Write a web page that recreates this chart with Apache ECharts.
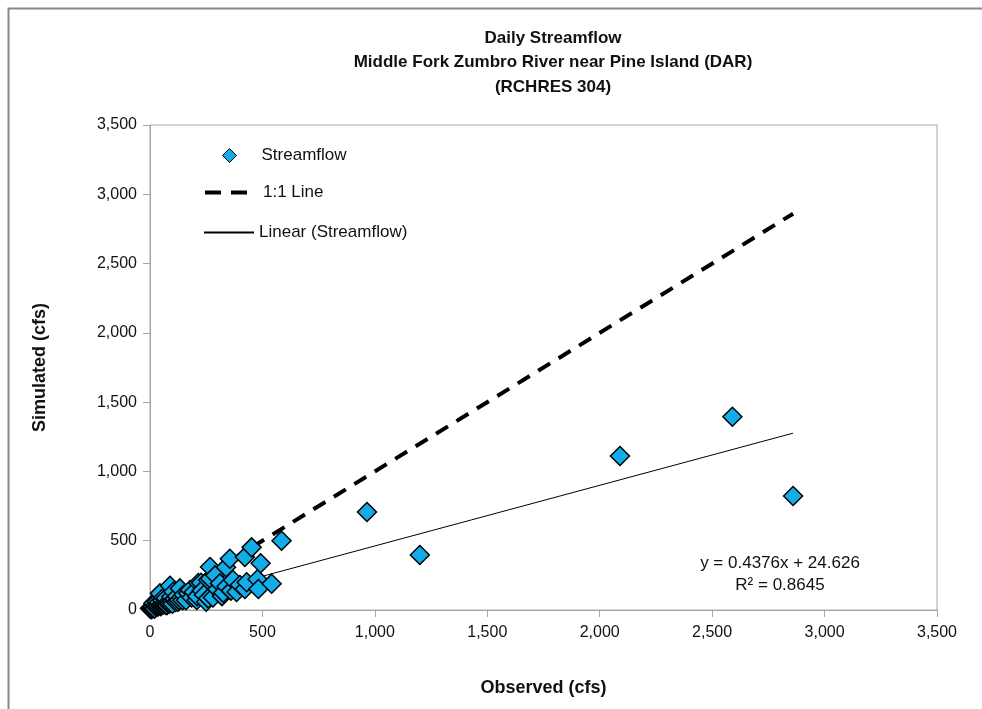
<!DOCTYPE html>
<html>
<head>
<meta charset="utf-8" />
<title>Daily Streamflow</title>
<script src="https://cdn.jsdelivr.net/npm/echarts@6/dist/echarts.min.js"></script>
<style>
  html, body { margin: 0; padding: 0; background: #fff; }
  #chart { width: 982px; height: 709px; }
</style>
</head>
<body>
<div id="chart"></div>
<script type="text/javascript">
// observed / simulated daily flows (cfs)
var observed = [
  0, 5, 8, 10, 15, 18, 20, 25, 28, 30, 35, 38, 40, 44, 48, 50, 55, 58, 60, 65, 68, 70,
  75, 78, 85, 88, 89, 95, 98, 100, 104, 110, 115, 120, 125, 130, 133, 140, 145, 150,
  160, 170, 178, 185, 195, 208, 210, 215, 227,
  230, 240, 250, 259, 259, 267, 267, 280, 290, 300, 311, 320, 326, 338, 340, 355,
  360, 369, 385, 400, 422, 422, 430, 452, 478, 482, 492, 541, 585,
  965, 1200, 2090, 2590, 2860
];
var simulated = [
  12, 5, 8, 20, 48, 14, 10, 35, 22, 60, 25, 30, 55, 120, 28, 40, 70, 40, 90, 50, 38, 85,
  35, 52, 60, 48, 175, 95, 62, 45, 132, 80, 58, 100, 60, 72, 156, 90, 70, 110,
  70, 120, 144, 90, 130, 72, 100, 195, 197,
  140, 110, 60, 84, 216, 228, 310, 90, 250, 150, 192, 100, 124, 309, 170, 370,
  140, 216, 130, 180, 152, 383, 200, 452, 222, 152, 337, 190, 500,
  707, 397, 1111, 1395, 823
];
var xTicks = [0, 500, 1000, 1500, 2000, 2500, 3000, 3500];
var yTicks = [0, 500, 1000, 1500, 2000, 2500, 3000, 3500];
var trendSlope = 0.4376;
var trendIntercept = 24.626;
var trendR2 = 0.8645;

var points = observed.map(function (x, i) { return [x, simulated[i]]; });
var minX = Math.min.apply(null, observed);
var maxX = Math.max.apply(null, observed);
var oneToOne = [[0, 0], [maxX, maxX]];
var trend = [[minX, trendSlope * minX + trendIntercept], [maxX, trendSlope * maxX + trendIntercept]];

function fmt(v) { return String(v).replace(/\B(?=(\d{3})+(?!\d))/g, ','); }

var FONT = '"Liberation Sans", Arial, sans-serif';
var myChart = echarts.init(document.getElementById('chart'));
var option = {
  animation: false,
  backgroundColor: '#fff',
  textStyle: { fontFamily: FONT },
  title: [{
    text: 'Daily Streamflow\nMiddle Fork Zumbro River near Pine Island (DAR)\n(RCHRES 304)',
    left: 553, top: 26, padding: 0,
    textAlign: 'center',
    textStyle: { fontFamily: FONT, fontSize: 17, fontWeight: 'bold', color: '#111', lineHeight: 24.5 }
  }, {
    text: 'y = ' + trendSlope + 'x + ' + trendIntercept + '\nR\u00b2 = ' + trendR2,
    left: 780, top: 552, padding: 0,
    textAlign: 'center',
    textStyle: { fontFamily: FONT, fontSize: 17, fontWeight: 'normal', color: '#111', lineHeight: 22 }
  }],
  graphic: [{
    type: 'rect', left: 6, top: 6, silent: true,
    shape: { width: 1000, height: 800 },
    style: { fill: 'none', stroke: '#888', lineWidth: 2 }
  }],
  legend: [{
    data: [{ name: 'Streamflow', icon: 'diamond' }], left: 222, top: 147, padding: 0,
    itemWidth: 14, itemHeight: 14,
    itemStyle: { borderColor: '#000', borderWidth: 1 },
    textStyle: { fontFamily: FONT, fontSize: 17, color: '#111', padding: [0, 0, 0, 20] }
  }, {
    data: ['1:1 Line'], left: 203, top: 184, padding: 0,
    itemWidth: 42, itemHeight: 14,
    itemStyle: { opacity: 0 },
    lineStyle: { width: 4, type: [16, 10], cap: 'butt' },
    textStyle: { fontFamily: FONT, fontSize: 17, color: '#111', padding: [0, 0, 0, 11] }
  }, {
    data: ['Linear (Streamflow)'], left: 203, top: 224, padding: 0,
    itemWidth: 50, itemHeight: 14,
    itemStyle: { opacity: 0 },
    textStyle: { fontFamily: FONT, fontSize: 17, color: '#111' }
  }],
  grid: {
    left: 150, top: 125, width: 787, height: 485,
    show: true, borderColor: '#a6a6a6', borderWidth: 1, backgroundColor: 'transparent'
  },
  xAxis: {
    type: 'value', min: 0, max: 3500, interval: 500,
    name: 'Observed (cfs)', nameLocation: 'middle', nameGap: 69,
    nameTextStyle: { fontFamily: FONT, fontSize: 18, fontWeight: 'bold', color: '#111' },
    axisLine: { show: true, onZero: false, lineStyle: { color: '#a6a6a6', width: 1 } },
    axisTick: { show: true, inside: false, length: 7, lineStyle: { color: '#a6a6a6' } },
    splitLine: { show: false },
    axisLabel: {
      margin: 15, fontFamily: FONT, fontSize: 16, color: '#111',
      formatter: function (v) { return xTicks.indexOf(v) >= 0 ? fmt(v) : ''; }
    }
  },
  yAxis: {
    type: 'value', min: 0, max: 3500, interval: 500,
    name: 'Simulated (cfs)', nameLocation: 'middle', nameGap: 101, nameRotate: 90,
    nameTextStyle: { fontFamily: FONT, fontSize: 18, fontWeight: 'bold', color: '#111' },
    axisLine: { show: true, onZero: false, lineStyle: { color: '#a6a6a6', width: 1 } },
    axisTick: { show: true, inside: false, length: 7, lineStyle: { color: '#a6a6a6' } },
    splitLine: { show: false },
    axisLabel: {
      margin: 13, fontFamily: FONT, fontSize: 16, color: '#111',
      formatter: function (v) { return yTicks.indexOf(v) >= 0 ? fmt(v) : ''; }
    }
  },
  series: [{
    name: '1:1 Line', type: 'line', data: oneToOne, symbol: 'none', z: 2,
    lineStyle: { color: '#000', width: 4, type: [14, 10], cap: 'butt' },
    itemStyle: { color: '#000' }
  }, {
    name: 'Linear (Streamflow)', type: 'line', data: trend, symbol: 'none', z: 2,
    lineStyle: { color: '#000', width: 1 },
    itemStyle: { color: '#000' }
  }, {
    name: 'Streamflow', type: 'scatter', data: points, symbol: 'diamond', symbolSize: 19, z: 3,
    itemStyle: { color: '#12ade8', borderColor: '#000', borderWidth: 1.5, opacity: 1 }
  }]
};
myChart.setOption(option);
</script>
</body>
</html>
